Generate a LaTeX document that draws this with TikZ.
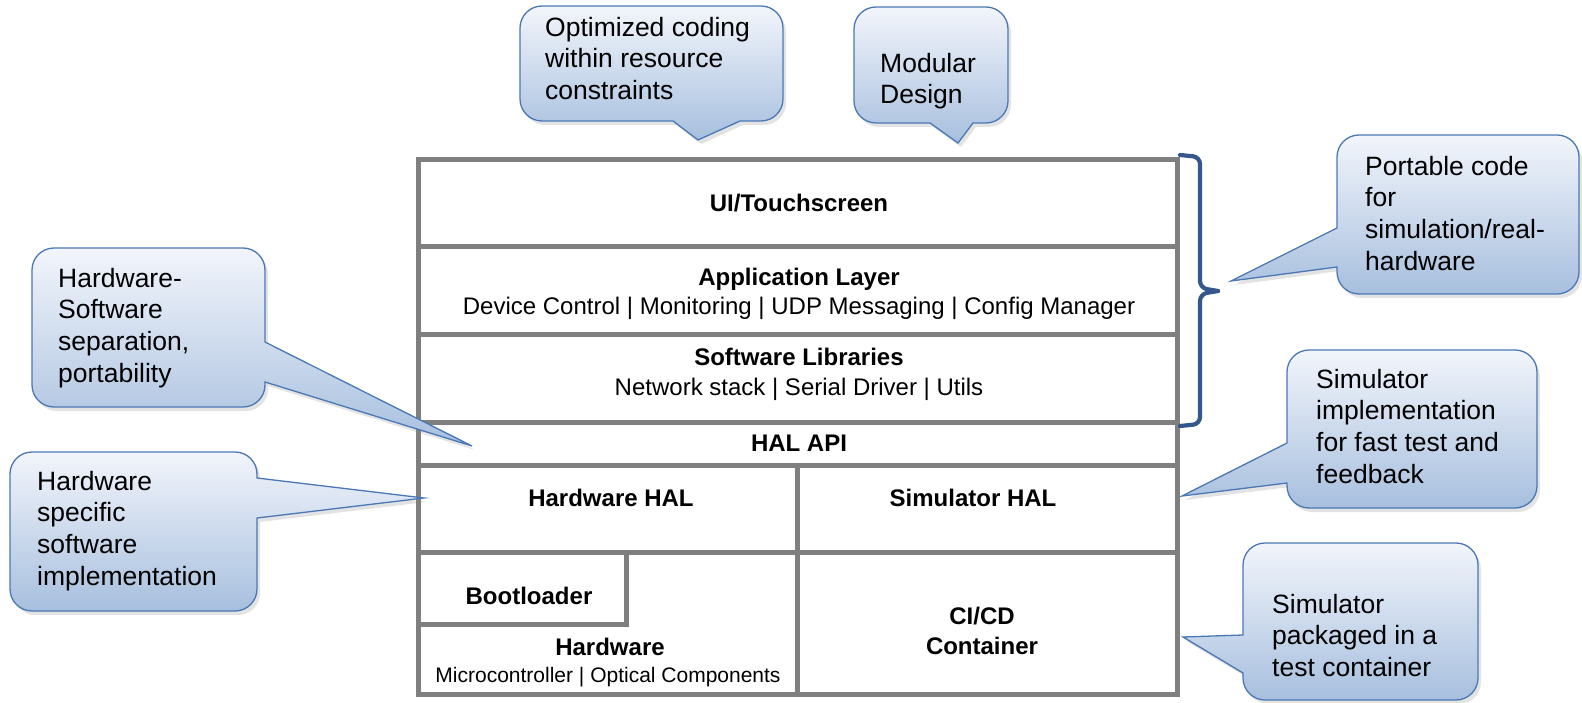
\documentclass[tikz,border=0pt]{standalone}
\usepackage{fontspec}
\setmainfont{Liberation Sans}
\usetikzlibrary{shadows}
\definecolor{linegray}{RGB}{127,127,127}
\definecolor{bracecol}{RGB}{52,88,140}
\definecolor{bubbleedge}{RGB}{74,120,181}
\definecolor{bubbletop}{RGB}{242,245,251}
\definecolor{bubblebot}{RGB}{167,191,222}

\begin{document}
\begin{tikzpicture}[x=1pt,y=-1pt,
  layer/.style={draw=linegray, line width=5pt, inner sep=0pt, outer sep=0pt, anchor=north west},
  title/.style={font=\fontsize{24}{28}\selectfont\bfseries, anchor=base, inner sep=0pt},
  sub/.style={font=\fontsize{24}{28}\selectfont, anchor=base, inner sep=0pt},
  small/.style={font=\fontsize{21}{25}\selectfont, anchor=base, inner sep=0pt},
  bubble/.style={draw=bubbleedge, line width=1.3pt, top color=bubbletop, bottom color=bubblebot,
    drop shadow={opacity=0.22, shadow xshift=3pt, shadow yshift=-4pt}},
  note/.style={font=\fontsize{26.5}{31.7}\selectfont, align=left, anchor=north west, inner sep=0pt},
  bracestyle/.style={draw=bracecol, line width=4.2pt, line cap=round, rounded corners=7pt}
]
\useasboundingbox (0,0) rectangle (1582,703);

% ---- software stack ----
\node[layer, minimum width=759pt, minimum height=87pt] (ui)     at (418,160) {};
\node[layer, minimum width=759pt, minimum height=87pt] (app)    at (418,247) {};
\node[layer, minimum width=759pt, minimum height=88pt] (lib)    at (418,334) {};
\node[layer, minimum width=759pt, minimum height=43pt] (halapi) at (418,422) {};
\node[layer, minimum width=379pt, minimum height=87pt] (hwhal)  at (418,465) {};
\node[layer, minimum width=380pt, minimum height=87pt] (simhal) at (797,465) {};
\node[layer, minimum width=379pt, minimum height=142pt] (hw)    at (418,552) {};
\node[layer, minimum width=380pt, minimum height=142pt] (cicd)  at (797,552) {};
\node[layer, minimum width=208pt, minimum height=72pt] (boot)   at (418,552) {};

\node[title] (uit)   at (799,212) {UI/Touchscreen};
\node[title] (appt)  at (799,286) {Application Layer};
\node[sub]   (apps)  at (799,315) {Device Control | Monitoring | UDP Messaging | Config Manager};
\node[title] (libt)  at (799,365) {Software Libraries};
\node[sub]   (libs)  at (799,395) {Network stack | Serial Driver | Utils};
\node[title] (halt)  at (799,451) {HAL API};
\node[title] (hwht)  at (611,506) {Hardware HAL};
\node[title] (simht) at (973,506) {Simulator HAL};
\node[title] (boott) at (529,604) {Bootloader};
\node[title] (hwt)   at (610,655) {Hardware};
\node[small] (hws)   at (608,682) {Microcontroller | Optical Components};
\node[title] (cit)   at (982,624) {CI/CD};
\node[title] (cont)  at (982,654) {Container};

% ---- brace over the portable layers ----
\coordinate (brtop) at (1180,155);
\coordinate (brmid) at (1218,291);
\coordinate (brbot) at (1180,426);
\draw[bracestyle] (brtop) -- (1200,157) -- (1200,288) -- (brmid);
\draw[bracestyle] (brmid) -- (1200,294) -- (1200,424) -- (brbot);

% ---- callouts (a corner is rounded by the setting in force when it is reached) ----
\path[bubble] (650,6) [rounded corners=22pt] -- (783,6) -- (783,121) [sharp corners] -- (740,121)
  -- (698,140) -- (673,121) [rounded corners=22pt] -- (520,121) -- (520,6) -- cycle;
\node[note] (opt) at (545,14) {\rule{0pt}{22pt}Optimized coding\\within resource\\constraints};

\path[bubble] (930,7) [rounded corners=22pt] -- (1008,7) -- (1008,123) [sharp corners] -- (973,123)
  -- (958,143) -- (930,123) [rounded corners=22pt] -- (854,123) -- (854,7) -- cycle;
\node[note] (mod) at (880,50) {\rule{0pt}{22pt}Modular\\Design};

\path[bubble] (150,248) [rounded corners=22pt] -- (265,248) [sharp corners] -- (265,342)
  -- (472,446) -- (265,382) [rounded corners=22pt] -- (265,407) -- (32,407) -- (32,248) -- cycle;
\node[note] (hwsw) at (58,265) {\rule{0pt}{22pt}Hardware-\\Software\\separation,\\portability};

\path[bubble] (130,452) [rounded corners=22pt] -- (257,452) [sharp corners] -- (257,478)
  -- (424,498) -- (257,518) [rounded corners=22pt] -- (257,611) -- (10,611) -- (10,452) -- cycle;
\node[note] (hwspec) at (37,468) {\rule{0pt}{22pt}Hardware\\specific\\software\\implementation};

\path[bubble] (1450,135) [rounded corners=22pt] -- (1579,135) -- (1579,294) -- (1337,294) [sharp corners] -- (1337,267)
  -- (1231,281) -- (1337,228) [rounded corners=22pt] -- (1337,135) -- cycle;
\node[note] (port) at (1365,153) {\rule{0pt}{22pt}Portable code\\for\\simulation/real-\\hardware};

\path[bubble] (1400,350) [rounded corners=22pt] -- (1537,350) -- (1537,508) -- (1287,508) [sharp corners] -- (1287,483)
  -- (1182,496) -- (1287,443) [rounded corners=22pt] -- (1287,350) -- cycle;
\node[note] (simimpl) at (1316,366) {\rule{0pt}{22pt}Simulator\\implementation\\for fast test and\\feedback};

\path[bubble] (1360,543) [rounded corners=22pt] -- (1478,543) -- (1478,700) -- (1243,700) [sharp corners] -- (1243,673)
  -- (1183,637) -- (1243,635) [rounded corners=22pt] -- (1243,543) -- cycle;
\node[note] (simpkg) at (1272,591) {\rule{0pt}{22pt}Simulator\\packaged in a\\test container};
\end{tikzpicture}
\end{document}
